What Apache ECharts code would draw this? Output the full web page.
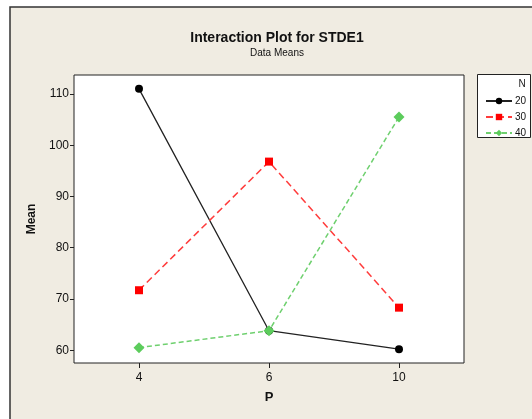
<!DOCTYPE html>
<html><head><meta charset="utf-8">
<script src="https://cdn.jsdelivr.net/npm/echarts@6/dist/echarts.min.js"></script>
<style>html,body{margin:0;padding:0;background:#fff}#c{width:532px;height:419px}</style>
</head><body><div id="c"></div>
<script>
const categories = ['4', '6', '10'];
const seriesNames = ['20', '30', '40'];
const n20 = [111.0, 63.8, 60.2];
const n30 = [71.7, 96.8, 68.3];
const n40 = [60.5, 63.8, 105.5];
const yTicks = [60, 70, 80, 90, 100, 110];

const FONT = '"Liberation Sans", Arial, sans-serif';
const chart = echarts.init(document.getElementById('c'), null, {renderer: 'canvas'});
chart.setOption({
  animation: false,
  backgroundColor: '#fff',
  graphic: [
    {type: 'rect', z: -10, shape: {x: 10, y: 7, width: 600, height: 500},
     style: {fill: '#F0ECE2', stroke: '#333', lineWidth: 1.5}},
    {type: 'rect', z: 5, shape: {x: 477.5, y: 74.5, width: 53, height: 63},
     style: {fill: '#fff', stroke: '#222', lineWidth: 1}},
    {type: 'text', z: 6, style: {x: 522, y: 84, text: 'N', fill: '#1a1a1a', font: '10px ' + FONT, align: 'center', verticalAlign: 'middle'}}
  ],
  title: {
    text: 'Interaction Plot for STDE1',
    subtext: 'Data Means',
    left: 272, top: 26, textAlign: 'center', itemGap: 3,
    textStyle: {fontFamily: FONT, fontWeight: 'bold', fontSize: 14, color: '#111'},
    subtextStyle: {fontFamily: FONT, fontSize: 10, color: '#111'}
  },
  legend: {
    orient: 'vertical', left: 480, top: 91, itemWidth: 26, itemHeight: 8, itemGap: 6,
    z: 10,
    textStyle: {fontFamily: FONT, fontSize: 10, color: '#111', padding: [0, 0, 0, -2]},
    data: seriesNames
  },
  grid: {left: 74, top: 75, right: 68, bottom: 56, show: true, backgroundColor: '#fff', borderColor: '#222', borderWidth: 1},
  xAxis: {
    type: 'category', data: categories, boundaryGap: true,
    name: 'P', nameLocation: 'middle', nameGap: 28,
    nameTextStyle: {fontFamily: FONT, fontWeight: 'bold', fontSize: 13, color: '#111'},
    axisLine: {show: false},
    axisTick: {show: true, alignWithLabel: true, length: 5, lineStyle: {color: '#222'}},
    axisLabel: {fontFamily: FONT, fontSize: 12, color: '#111', margin: 9},
    splitLine: {show: false}
  },
  yAxis: {
    type: 'value', min: 57.5, max: 113.7,
    name: 'Mean', nameLocation: 'middle', nameGap: 35, nameRotate: 90,
    nameTextStyle: {fontFamily: FONT, fontWeight: 'bold', fontSize: 12, color: '#111'},
    axisLine: {show: false},
    axisTick: {show: true, length: 4, customValues: yTicks, lineStyle: {color: '#222'}},
    axisLabel: {fontFamily: FONT, fontSize: 12, color: '#111', margin: 5, customValues: yTicks},
    splitLine: {show: false}
  },
  series: [
    {name: seriesNames[0], type: 'line', data: n20, symbol: 'circle', symbolSize: 8,
     itemStyle: {color: '#000'}, lineStyle: {color: '#222', width: 1.3, type: 'solid'}},
    {name: seriesNames[1], type: 'line', data: n30, symbol: 'rect', symbolSize: 8,
     itemStyle: {color: '#ff0000'}, lineStyle: {color: '#ff3b3b', width: 1.5, type: [7, 4]}},
    {name: seriesNames[2], type: 'line', data: n40, symbol: 'diamond', symbolSize: 11,
     itemStyle: {color: '#5ccc5c'}, lineStyle: {color: '#6fd06f', width: 1.5, type: [5, 3]}}
  ]
});
</script></body></html>
